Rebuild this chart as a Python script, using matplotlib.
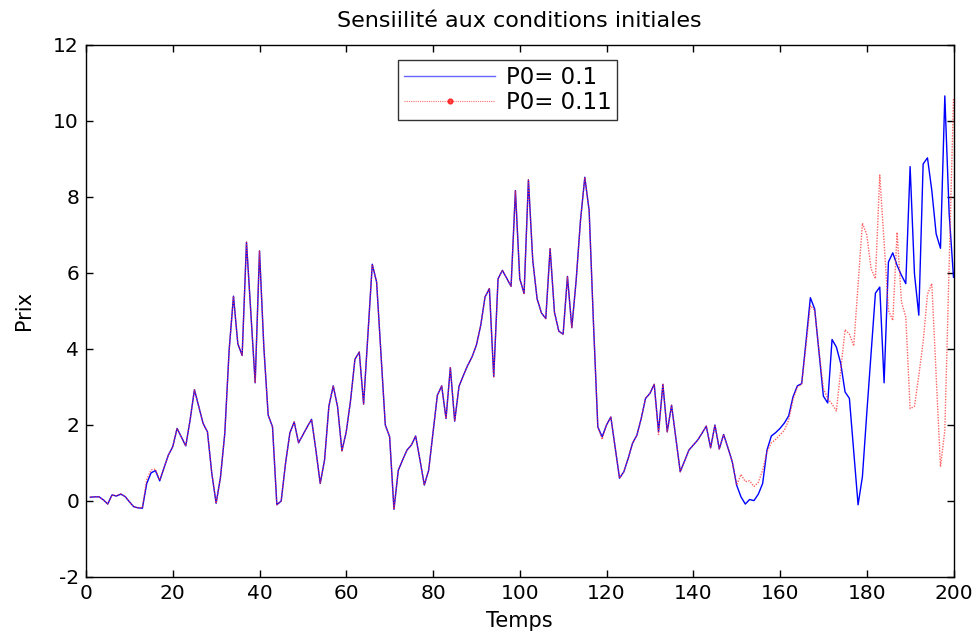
import numpy as np
import matplotlib
matplotlib.use("Agg")
import matplotlib.pyplot as plt
from matplotlib.lines import Line2D

plt.rcParams['font.family'] = ['DejaVu Sans']

t = np.arange(1, 201)

p_blue = [
    0.10, 0.11, 0.11, 0.03, -0.08, 0.16, 0.13, 0.18, 0.12, -0.02,
    -0.15, -0.18, -0.19, 0.46, 0.74, 0.80, 0.53, 0.88, 1.21, 1.43,
    1.91, 1.68, 1.45, 2.13, 2.93, 2.48, 2.04, 1.82, 0.73, -0.06,
    0.62, 1.78, 3.97, 5.39, 4.14, 3.83, 6.81, 4.96, 3.11, 6.58,
    4.05, 2.26, 1.95, -0.10, 0.00, 0.99, 1.79, 2.08, 1.53, 1.74,
    1.95, 2.15, 1.34, 0.46, 1.08, 2.50, 3.03, 2.48, 1.32, 1.82,
    2.65, 3.73, 3.92, 2.55, 4.40, 6.23, 5.76, 3.88, 2.00, 1.69,
    -0.22, 0.81, 1.08, 1.34, 1.47, 1.71, 1.08, 0.42, 0.81, 1.80,
    2.78, 3.03, 2.17, 3.51, 2.10, 3.02, 3.30, 3.57, 3.79, 4.10,
    4.62, 5.37, 5.59, 3.27, 5.85, 6.07, 5.86, 5.65, 8.17, 5.85,
    5.46, 8.45, 6.33, 5.32, 4.95, 4.80, 6.64, 4.97, 4.47, 4.39,
    5.91, 4.56, 5.80, 7.38, 8.52, 7.64, 4.67, 1.95, 1.69, 2.00,
    2.21, 1.40, 0.60, 0.77, 1.12, 1.52, 1.73, 2.17, 2.70, 2.83,
    3.07, 1.82, 3.07, 1.82, 2.52, 1.65, 0.77, 1.05, 1.34, 1.47,
    1.60, 1.78, 1.97, 1.40, 2.00, 1.37, 1.75, 1.40, 1.03, 0.42,
    0.11, -0.08, 0.04, 0.01, 0.18, 0.46, 1.34, 1.71, 1.80, 1.91,
    2.05, 2.24, 2.74, 3.03, 3.09, 4.20, 5.35, 5.05, 3.90, 2.76,
    2.58, 4.25, 4.05, 3.62, 2.87, 2.70, 1.30, -0.10, 0.64, 2.30,
    3.90, 5.47, 5.63, 3.11, 6.29, 6.53, 6.20, 5.94, 5.72, 8.80,
    5.98, 4.89, 8.87, 9.03, 8.17, 7.03, 6.65, 10.66, 7.56, 5.89,
]

p_red = [
    0.11, 0.11, 0.11, 0.03, -0.08, 0.16, 0.14, 0.19, 0.12, -0.02,
    -0.15, -0.18, -0.17, 0.56, 0.82, 0.84, 0.55, 0.88, 1.21, 1.43,
    1.91, 1.68, 1.45, 2.13, 2.93, 2.48, 2.04, 1.82, 0.73, -0.06,
    0.62, 1.78, 3.97, 5.39, 4.14, 3.83, 6.81, 4.96, 3.11, 6.58,
    4.05, 2.26, 1.95, -0.10, 0.00, 0.99, 1.79, 2.08, 1.53, 1.74,
    1.95, 2.15, 1.34, 0.46, 1.08, 2.50, 3.03, 2.48, 1.32, 1.82,
    2.65, 3.73, 3.92, 2.55, 4.40, 6.23, 5.76, 3.88, 2.00, 1.69,
    -0.22, 0.81, 1.08, 1.34, 1.47, 1.71, 1.08, 0.42, 0.81, 1.80,
    2.78, 3.03, 2.17, 3.51, 2.10, 3.02, 3.30, 3.57, 3.79, 4.10,
    4.62, 5.37, 5.59, 3.27, 5.85, 6.07, 5.86, 5.65, 8.17, 5.85,
    5.46, 8.45, 6.33, 5.32, 4.95, 4.80, 6.64, 4.97, 4.47, 4.39,
    5.91, 4.56, 5.80, 7.38, 8.52, 7.64, 4.67, 1.95, 1.62, 2.00,
    2.21, 1.40, 0.60, 0.77, 1.12, 1.52, 1.73, 2.17, 2.70, 2.83,
    3.07, 1.75, 3.07, 1.82, 2.52, 1.65, 0.77, 1.05, 1.34, 1.47,
    1.60, 1.78, 1.97, 1.40, 2.00, 1.37, 1.75, 1.40, 1.03, 0.42,
    0.70, 0.51, 0.53, 0.38, 0.49, 0.81, 1.30, 1.53, 1.62, 1.74,
    1.86, 2.13, 2.67, 3.00, 3.07, 4.10, 5.14, 5.02, 3.95, 2.96,
    2.70, 2.55, 2.37, 3.45, 4.51, 4.39, 4.08, 5.70, 7.31, 7.01,
    6.11, 5.85, 8.58, 6.80, 5.02, 4.75, 7.07, 5.24, 4.84, 2.43,
    2.49, 3.30, 4.18, 5.44, 5.72, 3.30, 0.90, 1.86, 6.20, 10.58,
]

x_ticks = list(range(0, 201, 20))
y_ticks = list(range(-2, 13, 2))
labels = ['P0= 0.1', 'P0= 0.11']

fig = plt.figure(figsize=(9.76, 6.33), dpi=100)
ax = fig.add_axes([86 / 976, 1 - 577 / 633, (953.5 - 86) / 976, (577 - 45) / 633])

ax.plot(t, p_blue, color='#0000ff', lw=1.0)
ax.plot(t, p_red, color='#ff3030', lw=1.0, ls=(0, (1, 1)), alpha=0.75)

ax.set_xlim(0, 200)
ax.set_ylim(-2, 12)
ax.set_xticks(x_ticks)
ax.set_yticks(y_ticks)
ax.set_yticklabels([str(v) for v in y_ticks])
ax.tick_params(direction='in', top=True, right=True, length=5, width=1,
               labelsize=14.5, pad=5)
for s in ax.spines.values():
    s.set_linewidth(1.0)

ax.set_title('Sensiilité aux conditions initiales', fontsize=16, pad=13)
ax.set_xlabel('Temps', fontsize=15, labelpad=6)
ax.set_ylabel('Prix', fontsize=15, labelpad=14)

h_blue = Line2D([], [], color='#0000ff', lw=1.0, alpha=0.6)
h_red = Line2D([], [], color='#ff3030', lw=0.8, ls=(0, (1, 1)), alpha=0.7,
               marker='o', markersize=3.5, markerfacecolor='red',
               markeredgecolor='red')
leg = ax.legend([h_blue, h_red], labels, loc='upper left',
                bbox_to_anchor=((398 - 86) / (953.5 - 86), 1 - (60 - 45) / 532),
                fontsize=16.5, numpoints=1, frameon=True, fancybox=False,
                edgecolor='black', handlelength=4.0, handletextpad=0.45,
                borderpad=0.25, labelspacing=0.12, borderaxespad=0)
leg.get_frame().set_linewidth(1.0)

fig.savefig('out.png', dpi=100)
